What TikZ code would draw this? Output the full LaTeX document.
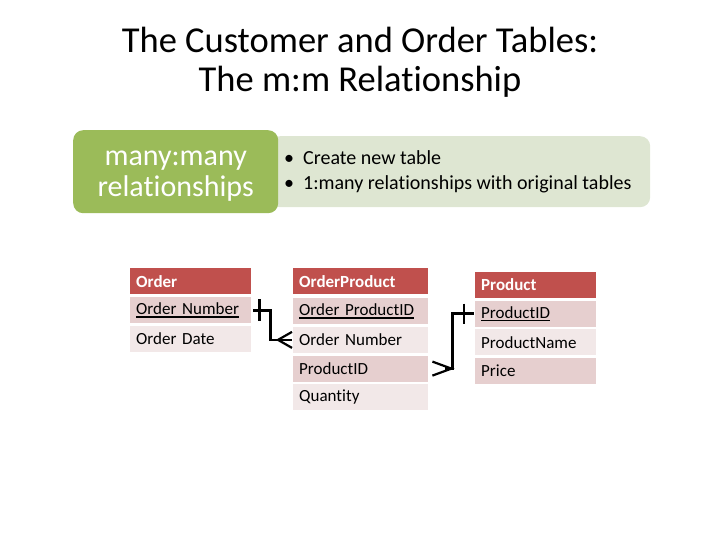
\documentclass[tikz,border=0pt]{standalone}
\usepackage{fontspec}
\setmainfont{Carlito}[Ligatures=NoCommon]
\usetikzlibrary{calc}
\definecolor{hdr}{HTML}{C0504D}
\definecolor{rowA}{HTML}{E6CFCF}
\definecolor{rowB}{HTML}{F2E8E8}
\definecolor{grn}{HTML}{9BBB59}
\definecolor{pale}{HTML}{DEE6D2}
\newcommand\pkey[1]{\setbox0\hbox{#1}\rlap{\rule[-3pt]{\wd0}{1.3pt}}\box0}
\begin{document}
\begin{tikzpicture}[x=1pt,y=-1pt,
  cell/.style={anchor=north west, minimum height=26pt, inner xsep=6pt, inner ysep=0pt,
    font=\fontsize{17}{20}\selectfont, align=left},
  head/.style={cell, fill=hdr, text=white, font=\fontsize{17}{20}\selectfont\bfseries},
  dark/.style={cell, fill=rowA},
  light/.style={cell, fill=rowB},
  conn/.style={line width=2.6pt, black},
  foot/.style={line width=2.2pt, black}]
\useasboundingbox (0,0) rectangle (720,540);
% title
\node[font=\fontsize{36.5}{40}\selectfont] (t1) at (360,40) {The Customer and Order Tables:};
\node[font=\fontsize{36.5}{40}\selectfont] (t2) at (360,82) {The m:m Relationship};
% boxes
\node[fill=pale, rounded corners=10pt, anchor=north west, minimum width=380pt, minimum height=71pt,
  inner sep=0pt] (pale) at (270,136) {};
\node[anchor=west, align=left, font=\fontsize{20}{25}\selectfont, inner sep=0pt] (bul) at (284,172)
  {\makebox[19pt][l]{\textbullet}Create new table\\\makebox[19pt][l]{\textbullet}1:many relationships with original tables};
\node[fill=grn, rounded corners=10pt, anchor=north west, minimum width=205pt, minimum height=83pt,
  inner sep=0pt] (grn) at (73,130) {};
\node[text=white, align=center, font=\fontsize{30}{31}\selectfont, inner sep=0pt] (gtxt)
  at ($(grn.center)+(0,4)$) {many:many\\relationships};
% Order table
\node[head, text width=109pt] (oh) at (130,268) {Order};
\node[dark, text width=109pt] (o1) at (130,297) {\pkey{Order Number}};
\node[light, text width=109pt] (o2) at (130,325.5) {Order Date};
% OrderProduct table
\node[head, text width=123pt] (oph) at (293,268) {OrderProduct};
\node[dark, text width=123pt] (op1) at (293,298) {\pkey{Order ProductID}};
\node[light, text width=123pt] (op2) at (293,326.7) {Order Number};
\node[dark, text width=123pt] (op3) at (293,355.4) {ProductID};
\node[light, text width=123pt] (op4) at (293,384.1) {Quantity};
% Product table
\node[head, text width=109pt] (ph) at (475,271.5) {Product};
\node[dark, text width=109pt] (p1) at (475,300.5) {\pkey{ProductID}};
\node[light, text width=109pt] (p2) at (475,329) {ProductName};
\node[dark, text width=109pt] (p3) at (475,357.5) {Price};
% connector Order -> OrderProduct
\coordinate (c1) at ($(o1.east)+(19,0)$);
\draw[conn] ($(o1.east)+(2,0)$) -- (c1) |- ($(op2.west)+(-1,0)$);
\draw[conn] ($(o1.east)+(8,-11)$) -- ($(o1.east)+(8,11)$);
\draw[foot] ($(op2.west)+(-1,-8)$) -- ($(op2.west)+(-15,0)$) -- ($(op2.west)+(-1,8)$);
% connector OrderProduct -> Product
\coordinate (c2) at ($(op3.east)+(24,0)$);
\draw[conn] ($(op3.east)+(17,0)$) -- (c2) |- ($(p1.west)+(-1,0)$);
\draw[conn] ($(p1.west)+(-11,-10)$) -- ($(p1.west)+(-11,10)$);
\draw[foot] ($(op3.east)+(4,-7)$) -- ($(op3.east)+(23,0)$) -- ($(op3.east)+(4,7)$);
\end{tikzpicture}
\end{document}
